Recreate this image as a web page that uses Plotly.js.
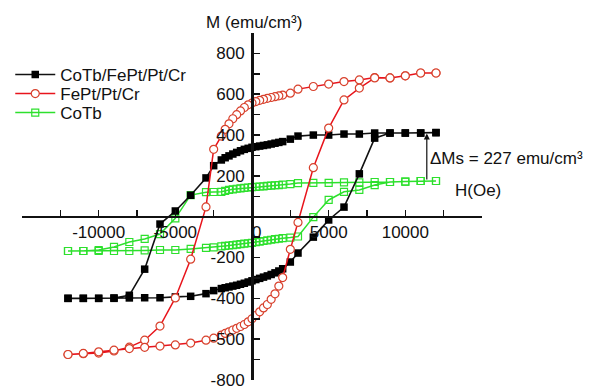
<!DOCTYPE html>
<html>
<head>
<meta charset="utf-8">
<script src="https://cdn.plot.ly/plotly-3.0.1.min.js"></script>
<style>html,body{margin:0;padding:0;background:#fff;}#chart{width:591px;height:390px;}</style>
</head>
<body>
<div id="chart"></div>
<script>
// Field grid (Oe): descending branch, then ascending branch
const H_down = [12000, 11000, 10000, 9000, 8000, 7000, 6000, 5000, 4000, 3000, 2500,
  2000, 1750, 1500, 1250, 1000, 750, 500, 250, 0, -250, -500, -750, -1000, -1250, -1500, -1750, -2000,
  -2500, -3000, -4000, -5000, -6000, -7000, -8000, -9000, -10000, -11000, -12000];
const H_up = [-12000, -11000, -10000, -9000, -8000, -7000, -6000, -5000, -4000, -3000, -2500,
  -2000, -1750, -1500, -1250, -1000, -750, -500, -250, 0, 250, 500, 750, 1000, 1250, 1500, 1750, 2000,
  2500, 3000, 4000, 5000, 6000, 7000, 8000, 9000, 10000, 11000, 12000];

// CoTb/FePt/Pt/Cr
const M_stack_down = [412, 410, 410, 410, 410, 405, 405, 400, 400, 395, 380,
  368, 364, 360, 356, 352, 349, 346, 343, 340, 335, 330, 323, 315, 307, 298, 289, 278,
  250, 190, 105, 28, -36, -257, -385, -398, -400, -400, -400];
const M_stack_up = [-400, -400, -400, -400, -398, -397, -397, -393, -390, -377, -362,
  -352, -348, -344, -340, -336, -331, -326, -320, -314, -308, -302, -296, -290, -283, -275, -266, -255,
  -222, -178, -100, -16, 47, 210, 385, 410, 410, 410, 412];

// FePt/Pt/Cr
const M_fept_down = [704, 704, 690, 680, 682, 670, 662, 650, 638, 625, 605,
  596, 592, 588, 584, 580, 575, 570, 564, 557, 548, 535, 518, 500, 480, 455, 428, 395,
  330, 48, -208, -398, -536, -605, -639, -658, -668, -671, -675];
const M_fept_up = [-675, -670, -662, -654, -646, -640, -634, -628, -619, -605, -595,
  -580, -572, -564, -555, -547, -538, -528, -515, -500, -484, -466, -447, -430, -405, -378, -340, -298,
  -160, -28, 240, 434, 572, 630, 680, 680, 690, 704, 704];

// CoTb
const M_cotb_down = [175, 175, 172, 170, 170, 168, 168, 166, 166, 165, 160,
  157, 155, 154, 152, 151, 149, 148, 146, 145, 143, 141, 139, 137, 134, 131, 127, 122,
  121, 120, 106, -8, -85, -109, -124, -148, -163, -168, -168];
const M_cotb_up = [-168, -168, -168, -168, -168, -165, -163, -163, -158, -153, -150,
  -145, -143, -141, -139, -137, -134, -132, -130, -128, -125, -122, -119, -116, -113, -110, -108, -105,
  -102, -97, -2, 82, 122, 131, 155, 170, 172, 175, 175];

const seriesNames = ['CoTb/FePt/Pt/Cr', 'FePt/Pt/Cr', 'CoTb'];
const yTickVals = [-800, -600, -400, -200, 200, 400, 600, 800];
const yTickText = ['-800', '-500', '-400', '-200', '200', '400', '600', '800'];
const xTickVals = [-10000, -5000, 0, 5000, 10000];
const xTickText = ['-10000', '-5000', '\u00a0\u00a00', '5000', '10000'];

const FONT = 'Liberation Sans, Arial, Helvetica, sans-serif';
const loopX = H_down.concat(H_up);

const traces = [
  {
    name: seriesNames[2], legend: 'legend3',
    x: loopX, y: M_cotb_down.concat(M_cotb_up),
    mode: 'lines+markers', type: 'scatter',
    line: {color: '#2de02d', width: 1.5},
    marker: {symbol: 'square-open', size: 7, color: '#2de02d', line: {width: 1.2}}
  },
  {
    name: seriesNames[0], legend: 'legend',
    x: loopX, y: M_stack_down.concat(M_stack_up),
    mode: 'lines+markers', type: 'scatter',
    line: {color: '#111111', width: 1.6},
    marker: {symbol: 'square', size: 7.5, color: '#000000'}
  },
  {
    name: seriesNames[1], legend: 'legend2',
    x: loopX, y: M_fept_down.concat(M_fept_up),
    mode: 'lines+markers', type: 'scatter',
    line: {color: '#e8141c', width: 1.5},
    marker: {symbol: 'circle', size: 8, color: '#ffffff', line: {color: '#d8402c', width: 1.2}}
  }
];

const W = 591, Hh = 390, L = 12, R = 109, T = 33, B = 10;
const pw = W - L - R, ph = Hh - T - B;
const px = v => (v - L) / pw;
const py = v => (Hh - B - v) / ph;

const legendCommon = {xanchor: 'left', yanchor: 'middle', bgcolor: 'rgba(0,0,0,0)',
  font: {family: FONT, size: 17, color: '#111'}, itemwidth: 40, borderwidth: 0};

const layout = {
  width: W, height: Hh,
  margin: {l: L, r: R, t: T, b: B, pad: 0},
  paper_bgcolor: '#ffffff', plot_bgcolor: '#ffffff',
  font: {family: FONT, size: 17, color: '#111'},
  showlegend: true,
  legend: Object.assign({x: px(0), y: py(75)}, legendCommon),
  legend2: Object.assign({x: px(0), y: py(94)}, legendCommon),
  legend3: Object.assign({x: px(0), y: py(113)}, legendCommon),
  xaxis: {
    range: [-15000, 15000], anchor: 'free', position: 800 / 1700,
    showgrid: false, zeroline: false, showline: true, linecolor: '#111', linewidth: 2,
    ticks: 'inside', ticklen: 6, tickwidth: 1.5, tickcolor: '#111',
    tickmode: 'array', tickvals: xTickVals, ticktext: xTickText,
    minor: {tickmode: 'linear', tick0: 0, dtick: 2500, ticks: 'inside', ticklen: 6, tickwidth: 1.5, tickcolor: '#111', showgrid: false},
    tickfont: {family: FONT, size: 17, color: '#111'}
  },
  yaxis: {
    range: [-800, 900], anchor: 'free', position: 0.5,
    showgrid: false, zeroline: false, showline: true, linecolor: '#111', linewidth: 2.5,
    ticks: 'inside', ticklen: 6, tickwidth: 1.5, tickcolor: '#111',
    tickmode: 'array', tickvals: yTickVals, ticktext: yTickText,
    minor: {tickmode: 'linear', tick0: 0, dtick: 100, ticks: 'inside', ticklen: 6, tickwidth: 1.5, tickcolor: '#111', showgrid: false},
    tickfont: {family: FONT, size: 17, color: '#111'},
    ticklabelstandoff: 3
  },
  annotations: [
    {xref: 'paper', yref: 'paper', x: px(198), y: py(22), xanchor: 'left', yanchor: 'middle',
     text: 'M (emu/cm\u00b3)', showarrow: false, font: {family: FONT, size: 17, color: '#111'}},
    {xref: 'paper', yref: 'paper', x: px(452), y: py(190), xanchor: 'left', yanchor: 'middle',
     text: 'H(Oe)', showarrow: false, font: {family: FONT, size: 17, color: '#111'}},
    {xref: 'paper', yref: 'paper', x: px(427), y: py(158), xanchor: 'left', yanchor: 'middle',
     text: '\u0394Ms = 227 emu/cm\u00b3', showarrow: false, font: {family: FONT, size: 17, color: '#111'}},
    {xref: 'x', yref: 'y', axref: 'x', ayref: 'y', x: 11400, y: 408, ax: 11400, ay: 175,
     text: '', showarrow: true, arrowhead: 2, arrowsize: 1, arrowwidth: 1.2, arrowcolor: '#111'}
  ]
};

Plotly.newPlot('chart', traces, layout, {displayModeBar: false, staticPlot: true});
</script>
</body>
</html>
